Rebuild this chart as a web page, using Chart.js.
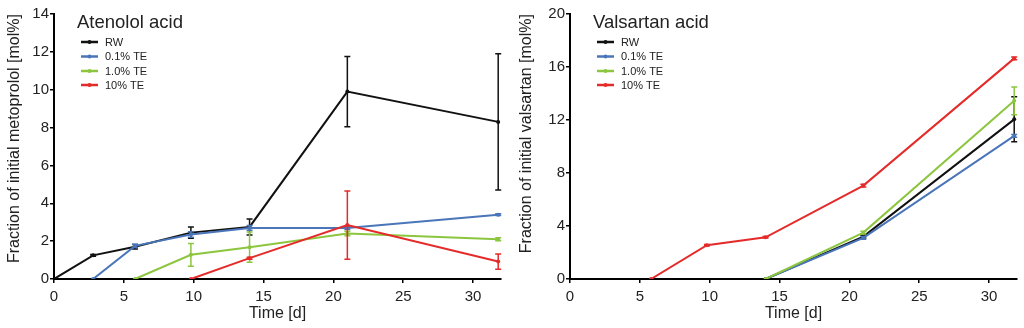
<!DOCTYPE html>
<html>
<head>
<meta charset="utf-8">
<script src="https://cdn.jsdelivr.net/npm/chart.js@4"></script>
<style>
  html, body { margin: 0; padding: 0; background: #fff; }
  #wrap { position: relative; width: 1024px; height: 328px; overflow: hidden; }
  .box { position: absolute; top: 0; width: 512px; height: 328px; }
  #b1 { left: 0; }
  #b2 { left: 512px; }
</style>
</head>
<body>
<div id="wrap">
  <div class="box" id="b1"><canvas id="c1"></canvas></div>
  <div class="box" id="b2"><canvas id="c2"></canvas></div>
</div>
<script>
// ---------- data ----------
const seriesNames = ['RW', '0.1% TE', '1.0% TE', '10% TE'];
const xTicks = [0, 5, 10, 15, 20, 25, 30];
const yTicksAten = [0, 2, 4, 6, 8, 10, 12, 14];
const yTicksVals = [0, 4, 8, 12, 16, 20];

// Atenolol acid
const atenRW_x   = [0, 2.8, 5.8, 9.8, 14, 21, 31.8];
const atenRW_y   = [0, 1.25, 1.7, 2.45, 2.75, 9.9, 8.3];
const atenRW_e   = [0, 0.05, 0.12, 0.3, 0.42, 1.85, 3.6];
const aten01_x   = [2.8, 5.8, 9.8, 14, 21, 31.8];
const aten01_y   = [0, 1.75, 2.35, 2.7, 2.7, 3.4];
const aten01_e   = [0, 0.08, 0.15, 0.12, 0.08, 0.05];
const aten10_x   = [5.8, 9.8, 14, 21, 31.8];
const aten10_y   = [0, 1.28, 1.68, 2.4, 2.1];
const aten10_e   = [0, 0.6, 0.8, 0.12, 0.08];
const aten100_x  = [9.8, 14, 21, 31.8];
const aten100_y  = [0, 1.1, 2.85, 0.92];
const aten100_e  = [0, 0.05, 1.8, 0.4];

// Valsartan acid
const valsRW_x   = [14, 21, 31.8];
const valsRW_y   = [0, 3.2, 12.05];
const valsRW_e   = [0, 0.1, 1.7];
const vals01_x   = [14, 21, 31.8];
const vals01_y   = [0, 3.1, 10.8];
const vals01_e   = [0, 0.1, 0.1];
const vals10_x   = [14, 21, 31.8];
const vals10_y   = [0, 3.5, 13.45];
const vals10_e   = [0, 0.1, 1.05];
const vals100_x  = [5.8, 9.8, 14, 21, 31.8];
const vals100_y  = [0, 2.55, 3.15, 7.05, 16.65];
const vals100_e  = [0, 0.05, 0.05, 0.1, 0.1];

// ---------- styles ----------
const colors = ['#111111', '#4a76b9', '#8cc63e', '#e52b2a'];
const FONT = '"Liberation Sans", Arial, sans-serif';
const TXT = '#222222';

function pts(xs, ys) { return xs.map((x, i) => ({ x: x, y: ys[i] })); }

function makeDatasets(list) {
  return list.map((s, i) => ({
    label: seriesNames[i],
    data: pts(s[0], s[1]),
    errors: s[2],
    borderColor: colors[i],
    backgroundColor: colors[i],
    borderWidth: 2,
    pointRadius: 2,
    pointHoverRadius: 2,
    pointBorderWidth: 0,
    tension: 0,
    order: 4 - i
  }));
}

const errorBarPlugin = {
  id: 'errorBars',
  afterDatasetDraw(chart, args) {
    const ds = chart.data.datasets[args.index];
    if (!ds.errors) return;
    const ctx = chart.ctx;
    const xs = chart.scales.x, ys = chart.scales.y;
    ctx.save();
    ctx.strokeStyle = ds.borderColor;
    ctx.lineWidth = 1.5;
    ds.data.forEach((p, i) => {
      const e = ds.errors[i];
      if (!e) return;
      const px = xs.getPixelForValue(p.x);
      const top = ys.getPixelForValue(p.y + e);
      const bot = ys.getPixelForValue(Math.max(0, p.y - e));
      ctx.beginPath();
      ctx.moveTo(px, top); ctx.lineTo(px, bot);
      ctx.moveTo(px - 3, top); ctx.lineTo(px + 3, top);
      ctx.moveTo(px - 3, bot); ctx.lineTo(px + 3, bot);
      ctx.stroke();
    });
    ctx.restore();
  }
};

const legendPlugin = {
  id: 'innerLegend',
  afterDraw(chart, args, opts) {
    const ctx = chart.ctx;
    const a = chart.chartArea;
    ctx.save();
    ctx.fillStyle = TXT;
    ctx.font = '18.5px ' + FONT;
    ctx.textBaseline = 'alphabetic';
    ctx.textAlign = 'left';
    ctx.fillText(opts.title, a.left + 23, 28);
    ctx.font = '11px ' + FONT;
    ctx.textBaseline = 'middle';
    const rows = [42, 56.5, 71, 85];
    seriesNames.forEach((n, i) => {
      const y = rows[i];
      const x0 = a.left + 27;
      ctx.strokeStyle = colors[i];
      ctx.lineWidth = 2.5;
      ctx.beginPath();
      ctx.moveTo(x0, y); ctx.lineTo(x0 + 17, y);
      ctx.stroke();
      ctx.fillStyle = colors[i];
      ctx.beginPath();
      ctx.arc(x0 + 8.5, y, 2, 0, Math.PI * 2);
      ctx.fill();
      ctx.fillStyle = TXT;
      ctx.fillText(n, x0 + 24, y + 0.5);
    });
    ctx.restore();
  }
};

function makeChart(id, datasets, yMax, yTicks, yTitle, title, yWidth, padRight) {
  return new Chart(document.getElementById(id), {
    type: 'line',
    data: { datasets: datasets },
    plugins: [errorBarPlugin, legendPlugin],
    options: {
      responsive: true,
      maintainAspectRatio: false,
      animation: false,
      events: [],
      layout: { padding: { top: 14, right: padRight, bottom: 0, left: 0 } },
      plugins: {
        legend: { display: false },
        tooltip: { enabled: false },
        innerLegend: { title: title }
      },
      scales: {
        x: {
          type: 'linear',
          min: 0, max: 32,
          afterBuildTicks(s) { s.ticks = xTicks.map(v => ({ value: v })); },
          afterFit(s) { s.height = 49; },
          ticks: { color: TXT, font: { family: FONT, size: 15 }, padding: 5, maxRotation: 0 },
          grid: { display: true, drawOnChartArea: false, drawTicks: true, tickLength: 4, color: '#000', lineWidth: 1.5 },
          border: { display: true, color: '#000', width: 2 },
          title: { display: true, text: 'Time [d]', color: TXT, font: { family: FONT, size: 16 }, padding: { top: 0, bottom: 5 } }
        },
        y: {
          type: 'linear',
          min: 0, max: yMax,
          afterBuildTicks(s) { s.ticks = yTicks.map(v => ({ value: v })); },
          afterFit(s) { s.width = yWidth; },
          ticks: { color: TXT, font: { family: FONT, size: 15 }, padding: 1 },
          grid: { display: true, drawOnChartArea: false, drawTicks: true, tickLength: 4, color: '#000', lineWidth: 1.5 },
          border: { display: true, color: '#000', width: 2 },
          title: { display: true, text: yTitle, align: 'end', color: TXT, font: { family: FONT, size: 16 }, padding: { top: 5, bottom: 0 } }
        }
      }
    }
  });
}

makeChart('c1', makeDatasets([
  [atenRW_x, atenRW_y, atenRW_e],
  [aten01_x, aten01_y, aten01_e],
  [aten10_x, aten10_y, aten10_e],
  [aten100_x, aten100_y, aten100_e]
]), 14, yTicksAten, 'Fraction of initial metoprolol [mol%]', 'Atenolol acid', 54, 11);

makeChart('c2', makeDatasets([
  [valsRW_x, valsRW_y, valsRW_e],
  [vals01_x, vals01_y, vals01_e],
  [vals10_x, vals10_y, vals10_e],
  [vals100_x, vals100_y, vals100_e]
]), 20, yTicksVals, 'Fraction of initial valsartan [mol%]', 'Valsartan acid', 58, 7);
</script>
</body>
</html>
